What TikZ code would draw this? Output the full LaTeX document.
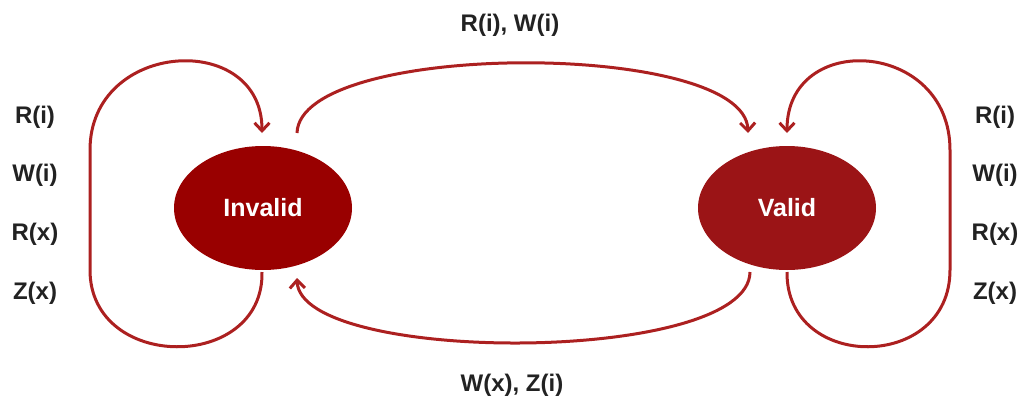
\documentclass[tikz,border=0pt]{standalone}
\usepackage{fontspec}
\setmainfont{Liberation Sans}
\usetikzlibrary{arrows.meta,shapes.geometric}
\definecolor{invred}{RGB}{153,0,0}
\definecolor{valred}{RGB}{155,20,22}
\definecolor{arrred}{RGB}{172,32,32}
\definecolor{txtgray}{RGB}{34,34,34}
\tikzset{
  state/.style={ellipse, minimum width=178pt, minimum height=124pt, inner sep=0pt, text=white, font=\fontsize{25}{28}\selectfont\bfseries},
  lbl/.style={text=txtgray, font=\fontsize{24}{28}\selectfont\bfseries, inner sep=0pt},
  conn/.style={draw=arrred, line width=3pt, -{Straight Barb[length=8pt,width=15pt,line width=3pt]}},
}
\begin{document}
\begin{tikzpicture}[x=1pt,y=-1pt]
\useasboundingbox (0,0) rectangle (1021,402);
\node[state, fill=invred] (inv) at (263,208) {Invalid};
\node[state, fill=valred] (val) at (787,208) {Valid};
\coordinate (invT1) at (262,133);
\coordinate (invT2) at (297,133);
\coordinate (invB1) at (262,272);
\coordinate (invB2) at (297,278);
\coordinate (valT1) at (748,133);
\coordinate (valT2) at (787,133);
\coordinate (valB1) at (750,272);
\coordinate (valB2) at (787,272);
% top
\draw[conn] (invT2) .. controls (300,40) and (745,40) .. (valT1);
% bottom
\draw[conn] (valB1) .. controls (749,365) and (300,365) .. (invB2);
% left loop
\draw[conn] (invB1) .. controls (264,372) and (90,372) .. (90,270) -- (90,150) .. controls (90,40) and (262,30) .. (invT1);
% right loop
\draw[conn] (valB2) .. controls (786,372) and (950,372) .. (950,270) -- (950,150) .. controls (950,40) and (787,30) .. (valT2);
% labels
\node[lbl] (ltop) at (510,25) {R(i), W(i)};
\node[lbl] (lbot) at (512,385) {W(x), Z(i)};
\node[lbl] (l1) at (35,117) {R(i)};
\node[lbl] (l2) at (35,175) {W(i)};
\node[lbl] (l3) at (35,234) {R(x)};
\node[lbl] (l4) at (35,293) {Z(x)};
\node[lbl] (r1) at (995,117) {R(i)};
\node[lbl] (r2) at (995,175) {W(i)};
\node[lbl] (r3) at (995,234) {R(x)};
\node[lbl] (r4) at (995,293) {Z(x)};
\end{tikzpicture}
\end{document}
